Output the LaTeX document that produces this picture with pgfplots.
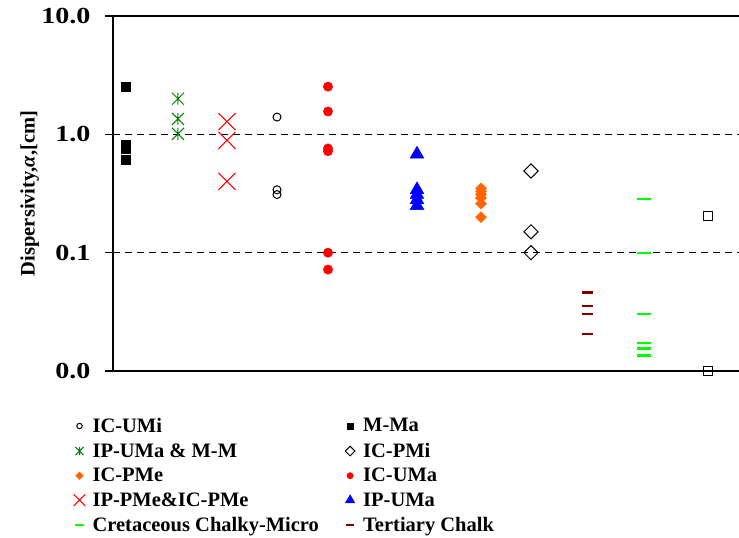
\documentclass[border=0pt]{standalone}
\usepackage{pgfplots}
\pgfplotsset{compat=1.18}
\usepackage{fontspec}
\setmainfont{Liberation Serif}
\usetikzlibrary{calc}
\definecolor{exgreen}{RGB}{0,128,0}
\definecolor{exorange}{RGB}{255,102,0}
\definecolor{exlime}{RGB}{0,255,0}
\definecolor{exmaroon}{RGB}{128,0,0}
\pgfdeclareplotmark{xstar}{%
  \pgfpathmoveto{\pgfqpoint{-\pgfplotmarksize}{-\pgfplotmarksize}}%
  \pgfpathlineto{\pgfqpoint{\pgfplotmarksize}{\pgfplotmarksize}}%
  \pgfpathmoveto{\pgfqpoint{-\pgfplotmarksize}{\pgfplotmarksize}}%
  \pgfpathlineto{\pgfqpoint{\pgfplotmarksize}{-\pgfplotmarksize}}%
  \pgfpathmoveto{\pgfqpoint{0pt}{-\pgfplotmarksize}}%
  \pgfpathlineto{\pgfqpoint{0pt}{\pgfplotmarksize}}%
  \pgfusepathqstroke}
\newcommand{\tl}[1]{\scalebox{1.22}[1]{#1}}
\begin{document}
\begin{tikzpicture}
\begin{semilogyaxis}[
  scale only axis,
  width=626pt, height=355pt,
  xmin=113, xmax=739,
  ymin=0.01, ymax=10,
  axis x line=box, axis y line=left,
  axis line style={-, line width=1.3pt},
  xtick=\empty,
  ytick={0.01,0.1,1,10},
  yticklabels={\tl{0.0},\tl{0.1},\tl{1.0},\tl{10.0}},
  yminorticks=false,
  tick align=outside,
  major tick length=8pt,
  ytick style={line width=1.1pt, black},
  yticklabel style={font=\fontsize{23}{26}\selectfont\bfseries, xshift=-11pt},
  ymajorgrids,
  grid style={black, line width=0.9pt, dash pattern=on 7pt off 5pt},
  ylabel={Dispersivity,\textit{α},[cm]},
  ylabel style={font=\fontsize{20.5}{24}\selectfont\bfseries, at={(axis description cs:-0.133,0.5)}, anchor=center},
  legend columns=2,
  legend cell align=left,
  legend image code/.code={%
    \draw[/tikz/every mark/.append style={scale=0.68}] plot coordinates {(0.3cm,0cm)};
    \path (0cm,0cm) (18.5pt,0pt);},
  legend style={draw=none, fill=none, at={(axis description cs:-0.074,-0.121)}, anchor=north west,
    font=\fontsize{20.5}{24}\selectfont\bfseries,
    row sep=5.3pt,
    /tikz/every even column/.append style={column sep=19.5pt}},
]
% IC-UMi
\addplot[only marks, mark=o, mark size=4, black, line width=1pt] coordinates {(277,1.40) (277,0.34) (277,0.31)};
\addlegendentry{IC-UMi}
% M-Ma
\addplot[only marks, mark=square*, mark size=4.3, black] coordinates {(126,2.53) (126,0.82) (126,0.76) (126,0.61)};
\addlegendentry{M-Ma}
% IP-UMa & M-M
\addplot[only marks, mark=xstar, mark size=6, exgreen, line width=1pt] coordinates {(178,2.0) (178,1.35) (178,1.01)};
\addlegendentry{IP-UMa \& M-M}
% IC-PMi
\addplot[only marks, mark=square, mark size=5, mark options={rotate=45}, black, line width=1pt] coordinates {(531,0.49) (531,0.15) (531,0.10)};
\addlegendentry{IC-PMi}
% IC-PMe
\addplot[only marks, mark=square*, mark size=3.9, mark options={rotate=45}, exorange] coordinates {(481,0.35) (481,0.33) (481,0.31) (481,0.29) (481,0.26) (481,0.20)};
\addlegendentry{IC-PMe}
% IC-UMa
\addplot[only marks, mark=*, mark size=4.7, red] coordinates {(328,2.53) (328,1.56) (328,0.76) (328,0.72) (328,0.10) (328,0.072)};
\addlegendentry{IC-UMa}
% IP-PMe&IC-PMe
\addplot[only marks, mark=x, mark size=12, red, line width=1pt] coordinates {(227,1.28) (227,0.89) (227,0.40)};
\addlegendentry{IP-PMe\&IC-PMe}
% IP-UMa
\addplot[only marks, mark=triangle*, mark size=8, blue] coordinates {(417,0.68) (417,0.34) (417,0.31) (417,0.28) (417,0.25)};
\addlegendentry{IP-UMa}
% Cretaceous Chalky-Micro
\addplot[only marks, mark=-, mark size=7, exlime, line width=2.2pt] coordinates {(644,0.285) (644,0.10) (644,0.0305) (644,0.0173) (644,0.0155) (644,0.0135)};
\addlegendentry{Cretaceous Chalky-Micro}
% Tertiary Chalk
\addplot[only marks, mark=-, mark size=5.5, exmaroon, line width=2.2pt] coordinates {(587,0.046) (587,0.0357) (587,0.0305) (587,0.0207)};
\addlegendentry{Tertiary Chalk}
% unlisted open squares
\addplot[only marks, mark=square, mark size=4.5, black, line width=1.2pt, forget plot] coordinates {(708,0.205) (708,0.01)};
\end{semilogyaxis}
\pgfresetboundingbox
\path[use as bounding box] ($(current axis.south west)+(-113pt,-166pt)$) rectangle ($(current axis.north east)+(0pt,16pt)$);
\end{tikzpicture}
\end{document}
